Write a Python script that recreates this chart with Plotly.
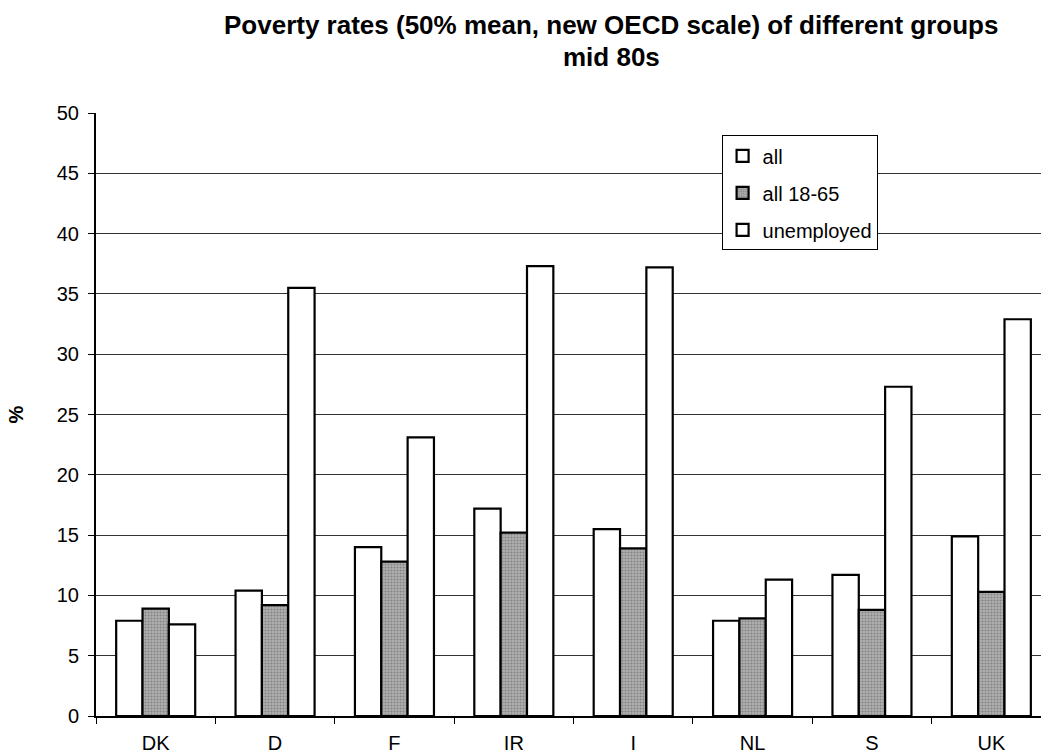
import plotly.graph_objects as go

countries = ["DK", "D", "F", "IR", "I", "NL", "S", "UK"]
all_rates = [7.9, 10.4, 14.0, 17.2, 15.5, 7.9, 11.7, 14.9]
working_age_rates = [8.9, 9.2, 12.8, 15.2, 13.9, 8.1, 8.8, 10.3]
unemployed_rates = [7.6, 35.5, 23.1, 37.3, 37.2, 11.3, 27.3, 32.9]
title_lines = ["Poverty rates (50% mean, new OECD scale) of different groups", "mid 80s"]

font_family = "Liberation Sans, Arial, sans-serif"
outline = dict(color="black", width=2.2)

fig = go.Figure()
fig.add_trace(go.Bar(
    name="all", x=countries, y=all_rates, legendgroup="g1",
    marker=dict(color="white", line=outline),
))
fig.add_trace(go.Bar(
    name="all 18-65", x=countries, y=working_age_rates, legendgroup="g2",
    marker=dict(
        color="#a9a9a9", line=outline,
        pattern=dict(shape=".", bgcolor="#b0b0b0", fgcolor="#555555",
                     size=3, solidity=0.4, fillmode="overlay"),
    ),
))
fig.add_trace(go.Bar(
    name="unemployed", x=countries, y=unemployed_rates, legendgroup="g3",
    marker=dict(color="white", line=outline),
))

# two-line bold heading above the plot area
for text, ypos in zip(title_lines, [1.117, 1.064]):
    fig.add_annotation(
        text=f"<b>{text}</b>", xref="paper", yref="paper",
        x=0.545, y=ypos, xanchor="center", yanchor="bottom",
        showarrow=False, font=dict(size=26, family=font_family),
    )

fig.update_layout(
    width=1041, height=754,
    margin=dict(l=96, r=0, t=113, b=38),
    paper_bgcolor="white", plot_bgcolor="white",
    barmode="group", bargap=0.338, bargroupgap=0,
    font=dict(family=font_family, size=19, color="black"),
    legend=dict(
        x=0.662, y=0.963, xanchor="left", yanchor="top",
        bgcolor="white", bordercolor="black", borderwidth=1,
        font=dict(size=20), tracegroupgap=8,
        itemwidth=30,
    ),
    showlegend=True,
)

fig.update_yaxes(
    range=[0, 50], dtick=5, tick0=0,
    showgrid=True, gridcolor="#333333", gridwidth=1,
    showline=True, linecolor="black", linewidth=2,
    ticks="outside", ticklen=6, tickcolor="black",
    ticklabelstandoff=5,
    tickfont=dict(size=20),
    zeroline=False,
    title=dict(text="<b>%</b>", font=dict(size=20), standoff=28),
)
fig.update_xaxes(
    range=[-0.5, 7.416],
    showline=True, linecolor="black", linewidth=2,
    ticks="outside", tickson="boundaries", ticklen=6, tickcolor="black",
    ticklabelstandoff=8,
    tickfont=dict(size=20),
    showgrid=False,
)

fig.write_html("out.html")
